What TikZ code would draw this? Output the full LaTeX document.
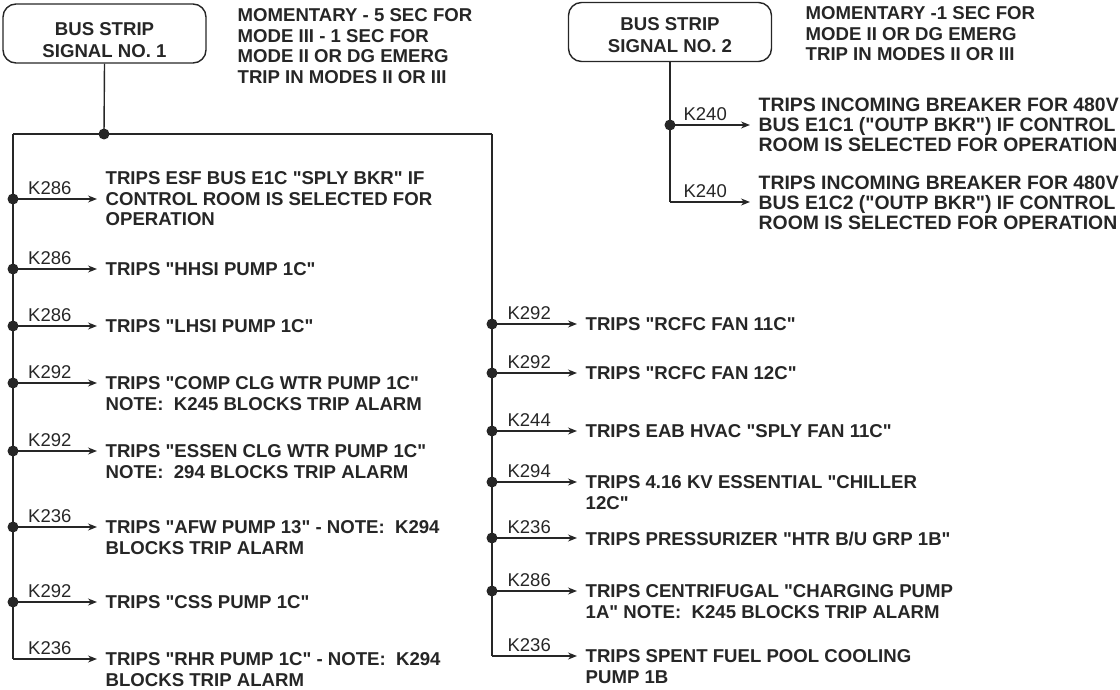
\documentclass[tikz,border=0pt]{standalone}
\usepackage{fontspec}
\newfontfamily\arial{Liberation Sans}
\usetikzlibrary{arrows.meta}

\begin{document}
\begin{tikzpicture}[x=1pt,y=-1pt,>={Stealth[length=9pt,width=7pt]},line width=1.4pt,
  color=black!85,font=\arial\bfseries\fontsize{18.6}{20.5}\selectfont,
  signal/.style={draw,rounded corners=13pt,minimum width=203pt,minimum height=59pt,
    align=center,font=\arial\bfseries\fontsize{18.6}{22}\selectfont},
  trip/.style={anchor=north west,inner sep=0pt,align=left},
  feed/.style={->,shorten >=8pt},
  relay/.style={pos=0.4,above=4pt,inner sep=0pt,font=\arial\fontsize{18.5}{20}\selectfont}]
\useasboundingbox (0,0) rectangle (1120,690);
% signal boxes and notes
\node[signal] (box1) at (104.5,33.5) {\rule{0pt}{26pt}BUS STRIP\\SIGNAL NO. 1};
\node[signal] (box2) at (670,32) {\rule{0pt}{20pt}BUS STRIP\\SIGNAL NO. 2};
\node[trip] (note1) at (237,8.3) {MOMENTARY - 5 SEC FOR\\MODE III - 1 SEC FOR\\MODE II OR DG EMERG\\TRIP IN MODES II OR III};
\node[trip] (note2) at (805,6.3) {MOMENTARY -1 SEC FOR\\MODE II OR DG EMERG\\TRIP IN MODES II OR III};
% bus 1
\coordinate (j1) at (104,134);
\coordinate (busl) at (13,134);
\coordinate (busr) at (492,134);
\draw (box1.south) -- (j1);
\draw (busl) -- (busr);
\fill (j1) circle (5.5pt);
% left branches
\node[trip] (t1) at (105,171.3) {TRIPS ESF BUS E1C "SPLY BKR" IF\\CONTROL ROOM IS SELECTED FOR\\OPERATION};
\node[trip] (t2) at (105,262.3) {TRIPS "HHSI PUMP 1C"};
\node[trip] (t3) at (105,319.3) {TRIPS "LHSI PUMP 1C"};
\node[trip] (t4) at (105,376.3) {TRIPS "COMP CLG WTR PUMP 1C"\\NOTE:\ \ K245 BLOCKS TRIP ALARM};
\node[trip] (t5) at (105,444.3) {TRIPS "ESSEN CLG WTR PUMP 1C"\\NOTE:\ \ 294 BLOCKS TRIP ALARM};
\node[trip] (t6) at (105,520.3) {TRIPS "AFW PUMP 13" - NOTE:\ \ K294\\BLOCKS TRIP ALARM};
\node[trip] (t7) at (105,595.3) {TRIPS "CSS PUMP 1C"};
\node[trip] (t8) at (105,652.3) {TRIPS "RHR PUMP 1C" - NOTE:\ \ K294\\BLOCKS TRIP ALARM};
\coordinate (l1) at (13,199);
\coordinate (l2) at (13,269);
\coordinate (l3) at (13,326);
\coordinate (l4) at (13,383);
\coordinate (l5) at (13,451);
\coordinate (l6) at (13,527);
\coordinate (l7) at (13,602);
\coordinate (l8) at (13,659);
\draw (busl) -- (l8);
\draw[feed] (l1) -- (t1.west |- l1) node[relay]{K286};
\draw[feed] (l2) -- (t2.west |- l2) node[relay]{K286};
\draw[feed] (l3) -- (t3.west |- l3) node[relay]{K286};
\draw[feed] (l4) -- (t4.west |- l4) node[relay]{K292};
\draw[feed] (l5) -- (t5.west |- l5) node[relay]{K292};
\draw[feed] (l6) -- (t6.west |- l6) node[relay]{K236};
\draw[feed] (l7) -- (t7.west |- l7) node[relay]{K292};
\draw[feed] (l8) -- (t8.west |- l8) node[relay]{K236};
\foreach \p in {l1,l2,l3,l4,l5,l6,l7} \fill (\p) circle (5.5pt);
% right branches
\node[trip] (r1) at (585,317.3) {TRIPS "RCFC FAN 11C"};
\node[trip] (r2) at (585,366.3) {TRIPS "RCFC FAN 12C"};
\node[trip] (r3) at (585,424.3) {TRIPS EAB HVAC "SPLY FAN 11C"};
\node[trip] (r4) at (585,475.3) {TRIPS 4.16 KV ESSENTIAL "CHILLER\\12C"};
\node[trip] (r5) at (585,531.3) {TRIPS PRESSURIZER "HTR B/U GRP 1B"};
\node[trip] (r6) at (585,584.3) {TRIPS CENTRIFUGAL "CHARGING PUMP\\1A" NOTE:\ \ K245 BLOCKS TRIP ALARM};
\node[trip] (r7) at (585,649.3) {TRIPS SPENT FUEL POOL COOLING\\PUMP 1B};
\coordinate (m1) at (492,324);
\coordinate (m2) at (492,373);
\coordinate (m3) at (492,431);
\coordinate (m4) at (492,482);
\coordinate (m5) at (492,538);
\coordinate (m6) at (492,591);
\coordinate (m7) at (492,656);
\draw (busr) -- (m7);
\draw[feed] (m1) -- (r1.west |- m1) node[relay]{K292};
\draw[feed] (m2) -- (r2.west |- m2) node[relay]{K292};
\draw[feed] (m3) -- (r3.west |- m3) node[relay]{K244};
\draw[feed] (m4) -- (r4.west |- m4) node[relay]{K294};
\draw[feed] (m5) -- (r5.west |- m5) node[relay]{K236};
\draw[feed] (m6) -- (r6.west |- m6) node[relay]{K286};
\draw[feed] (m7) -- (r7.west |- m7) node[relay]{K236};
\foreach \p in {m1,m2,m3,m4,m5,m6} \fill (\p) circle (5.5pt);
% bus 2
\node[trip,font=\arial\bfseries\fontsize{19.4}{20}\selectfont] (s1) at (758,97.5) {TRIPS INCOMING BREAKER FOR 480V\\BUS E1C1 ("OUTP BKR") IF CONTROL\\ROOM IS SELECTED FOR OPERATION};
\node[trip,font=\arial\bfseries\fontsize{19.4}{20}\selectfont] (s2) at (758,175.5) {TRIPS INCOMING BREAKER FOR 480V\\BUS E1C2 ("OUTP BKR") IF CONTROL\\ROOM IS SELECTED FOR OPERATION};
\coordinate (n1) at (670,125);
\coordinate (n2) at (670,202);
\draw (box2.south) -- (n2);
\draw[feed] (n1) -- (s1.west |- n1) node[relay]{K240};
\draw[feed] (n2) -- (s2.west |- n2) node[relay]{K240};
\fill (n1) circle (5.5pt);
\end{tikzpicture}
\end{document}
